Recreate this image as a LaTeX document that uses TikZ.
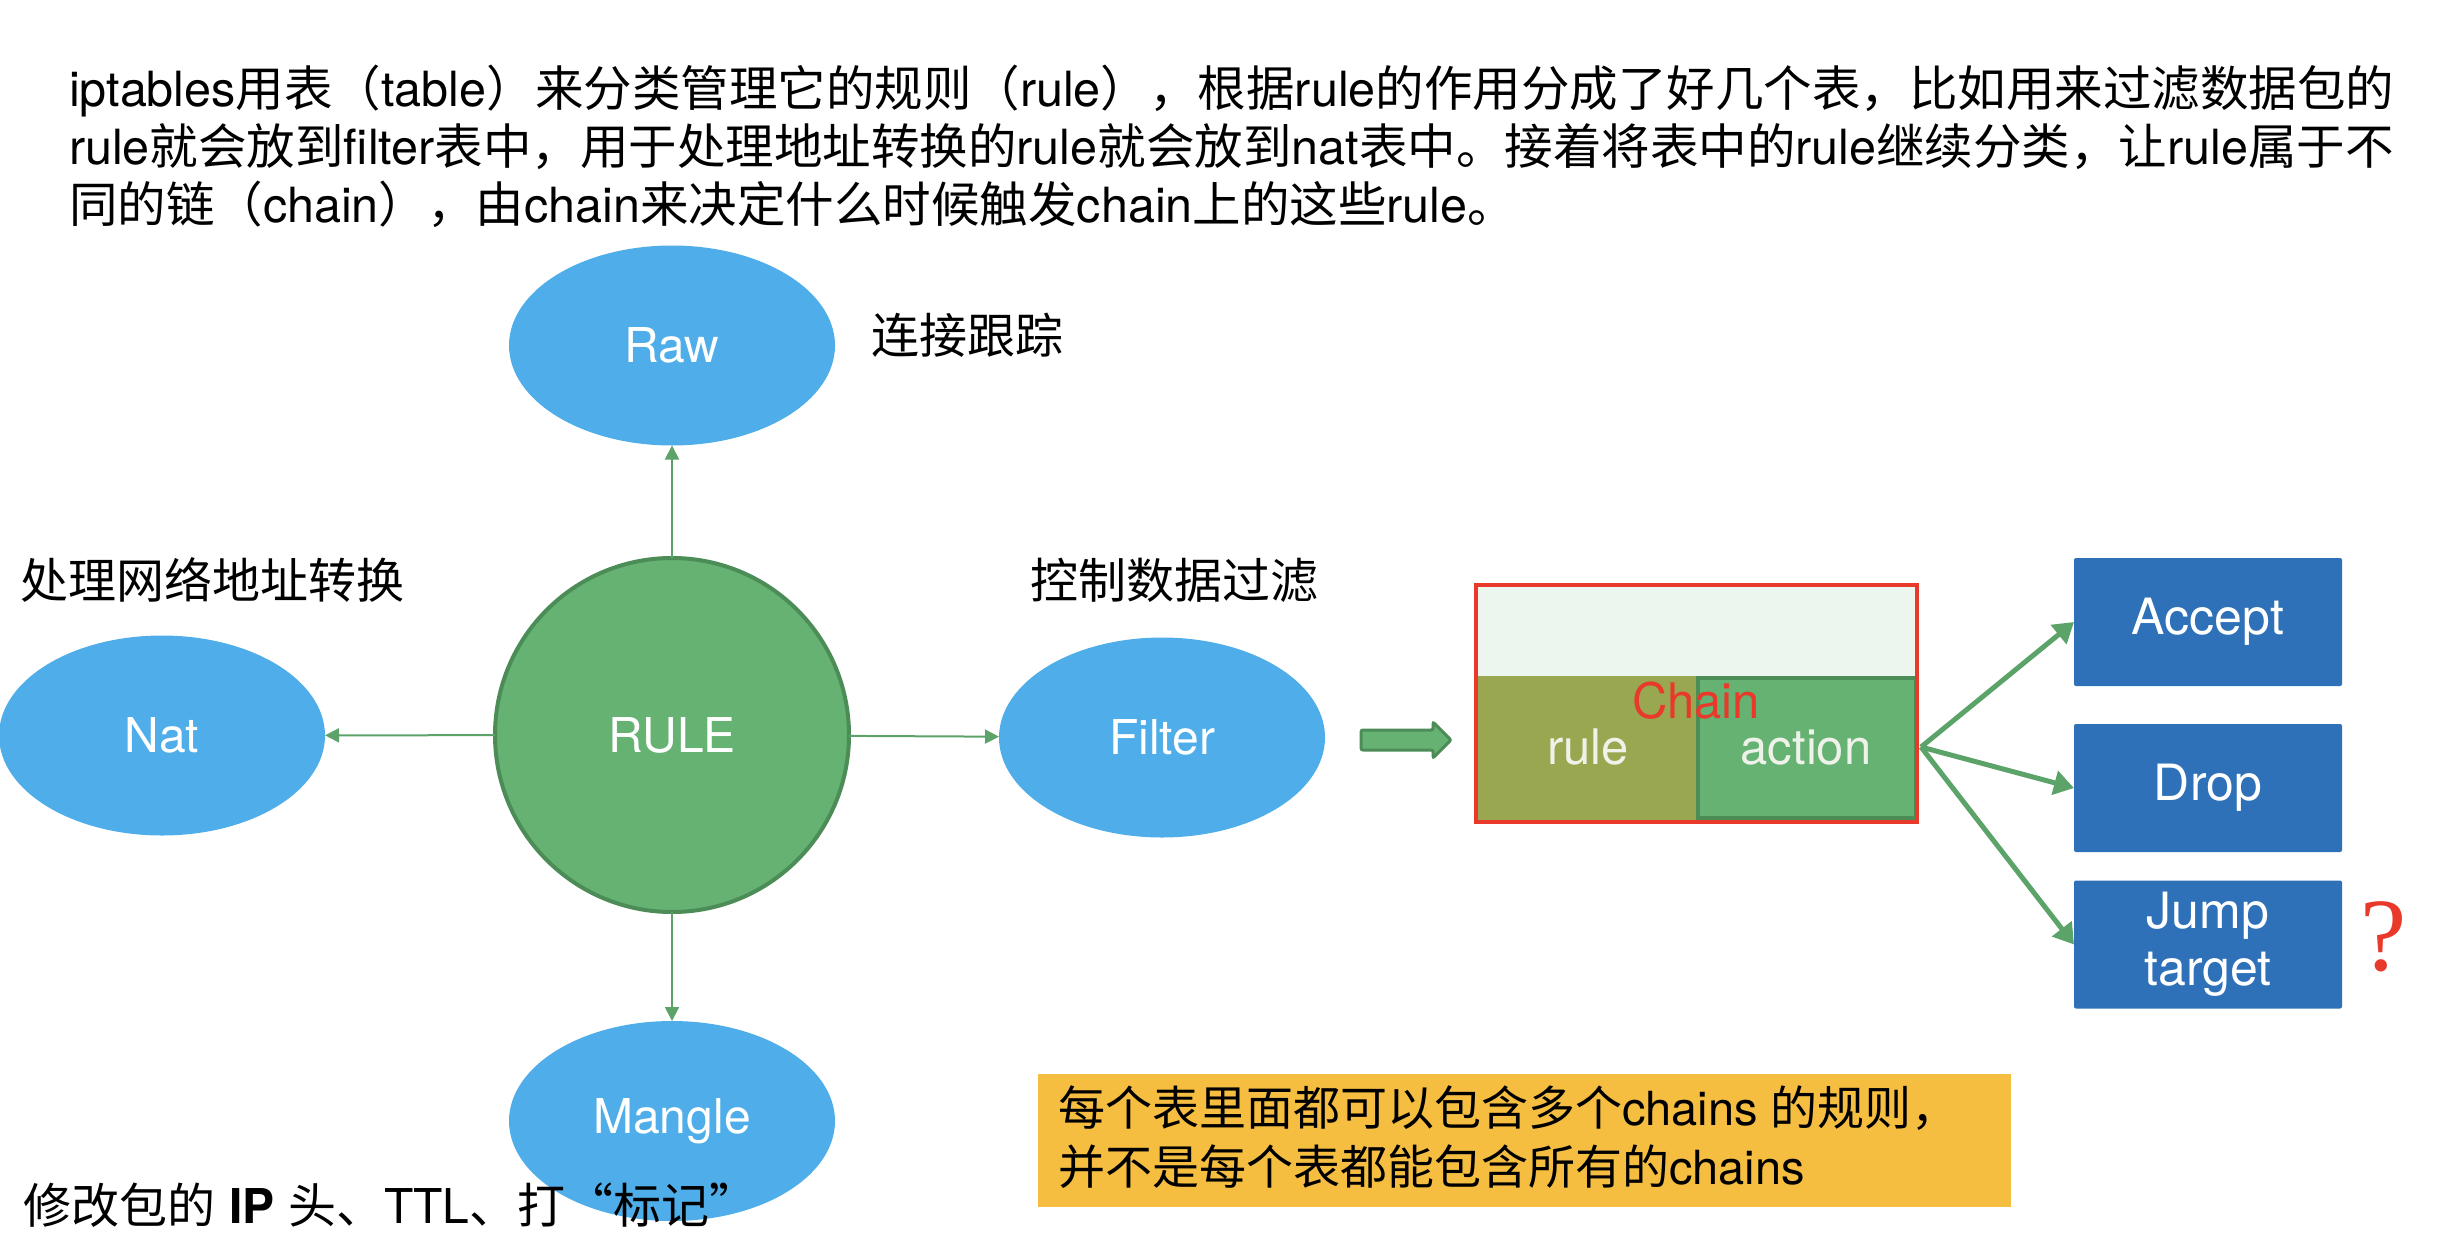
\documentclass[tikz,border=0pt]{standalone}
\usepackage{fontspec}
\setmainfont{TeX Gyre Heros}
\newfontfamily\zhfont{Noto Sans CJK SC}
\newfontfamily\qfont{Liberation Serif}
\usetikzlibrary{shapes.geometric,arrows.meta}
\newcommand\zh[1]{{\zhfont #1}}
\definecolor{ellblue}{HTML}{4FAEE9}
\definecolor{rulegreen}{HTML}{65B273}
\definecolor{darkgreen}{HTML}{4C8C57}
\definecolor{chainolive}{HTML}{99A750}
\definecolor{chainlight}{HTML}{EDF5EF}
\definecolor{chainred}{HTML}{E8392B}
\definecolor{boxblue}{HTML}{2E71B8}
\definecolor{arrgreen}{HTML}{5CA36A}
\definecolor{noteyellow}{HTML}{F5BE41}
\definecolor{paletext}{HTML}{EEF2E8}
\begin{document}
\begin{tikzpicture}[x=0.5pt,y=-0.5pt,
  every node/.style={inner sep=0pt, outer sep=0pt},
  para/.style={anchor=base west, font=\fontsize{24.25}{29}\selectfont},
  lbl/.style={font=\fontsize{24}{28}\selectfont\zhfont},
  ell/.style={ellipse, fill=ellblue, minimum width=163pt, minimum height=100pt,
    text=white, font=\fontsize{24}{28}\selectfont},
  thinarr/.style={draw=arrgreen, line width=1pt, -{Triangle[length=7pt,width=7pt]}},
  thickarr/.style={draw=arrgreen, line width=2.5pt, -{Triangle[length=10pt,width=12pt]}},
  bluebox/.style={rectangle, fill=boxblue, minimum width=134pt, minimum height=64pt,
    rounded corners=1pt, text=white, align=center, font=\fontsize{25}{28.5}\selectfont},
  chaintext/.style={anchor=base, font=\fontsize{24.5}{28}\selectfont}
]
\useasboundingbox (0,0) rectangle (2456,1242);

% paragraph
\node[para] (p1) at (69,106) {iptables\zh{用表（}table\zh{）来分类管理它的规则（}rule\zh{），根据}rule\zh{的作用分成了好几个表，比如用来过滤数据包的}};
\node[para] (p2) at (69,164) {rule\zh{就会放到}filter\zh{表中，用于处理地址转换的}rule\zh{就会放到}nat\zh{表中。接着将表中的}rule\zh{继续分类，让}rule\zh{属于不}};
\node[para] (p3) at (69,222) {\zh{同的链（}chain\zh{），由}chain\zh{来决定什么时候触发}chain\zh{上的这些}rule\zh{。}};

% ellipses
\node[ell] (raw) at (672,345.5) {Raw};
\node[ell] (nat) at (162,735.5) {Nat};
\node[ell] (filter) at (1162,737.5) {Filter};
\node[ell] (mangle) at (672,1121) {Mangle};
\node[circle, fill=rulegreen, draw=darkgreen, line width=2pt, minimum size=177pt,
  text=white, font=\fontsize{24}{28}\selectfont] (rule) at (672,735) {RULE};

\draw[thinarr] (rule) -- (raw);
\draw[thinarr] (rule) -- (nat);
\draw[thinarr] (rule) -- (filter);
\draw[thinarr] (rule) -- (mangle);

% labels
\node[lbl] (lraw) at (967,335) {连接跟踪};
\node[lbl] (lnat) at (212,580) {处理网络地址转换};
\node[lbl] (lfilter) at (1174,580) {控制数据过滤};

% block arrow
\draw[draw=darkgreen, fill=rulegreen, line width=1.5pt, rounded corners=1pt]
  (1361,730) -- (1433,730) -- (1433,722) -- (1451,740) -- (1433,758) -- (1433,750) -- (1361,750) -- cycle;

% chain box
\node[rectangle, fill=chainlight, minimum width=220.5pt, minimum height=118.5pt] (chain) at (1696.5,703.5) {};
\fill[chainolive] (1476,676) rectangle (1697,822);
\node[rectangle, fill=rulegreen, draw=darkgreen, line width=2pt, minimum width=109pt, minimum height=70pt] (action) at (1807,748) {};
\draw[chainred, line width=2pt] (chain.north west) rectangle (chain.south east);
\node[chaintext, text=chainred] (chaintxt) at (1696,718) {Chain};
\node[chaintext, text=paletext] (ruletxt) at (1588,764) {rule};
\node[chaintext, text=paletext] (actiontxt) at (1806,764) {action};

% targets
\node[bluebox] (accept) at (2208,622) {Accept};
\node[bluebox] (drop) at (2208,788) {Drop};
\node[bluebox] (jump) at (2208,944.5) {Jump\\target};
\coordinate (fork) at (1921,747);
\draw[thickarr] (fork) -- (accept.west);
\draw[thickarr] (fork) -- (drop.west);
\draw[thickarr] (fork) -- (jump.west);
\node[anchor=base, text=chainred, font=\fontsize{52}{56}\selectfont\qfont] (qmark) at (2384,970) {?};

% note
\node[rectangle, fill=noteyellow, minimum width=486.5pt, minimum height=66.5pt] (note) at (1524.5,1140.5) {};
\node[anchor=west, font=\fontsize{23.5}{28}\selectfont] (note1) at (1058,1108) {\zh{每个表里面都可以包含多个}chains \zh{的规则，}};
\node[anchor=west, font=\fontsize{23.5}{28}\selectfont] (note2) at (1058,1167) {\zh{并不是每个表都能包含所有的}chains};

% bottom label
\node[anchor=west, font=\fontsize{24}{28}\selectfont] (lmangle) at (24,1205) {\zh{修改包的} \textbf{IP} \zh{头、}TTL\zh{、打“标记”}};
\end{tikzpicture}
\end{document}
